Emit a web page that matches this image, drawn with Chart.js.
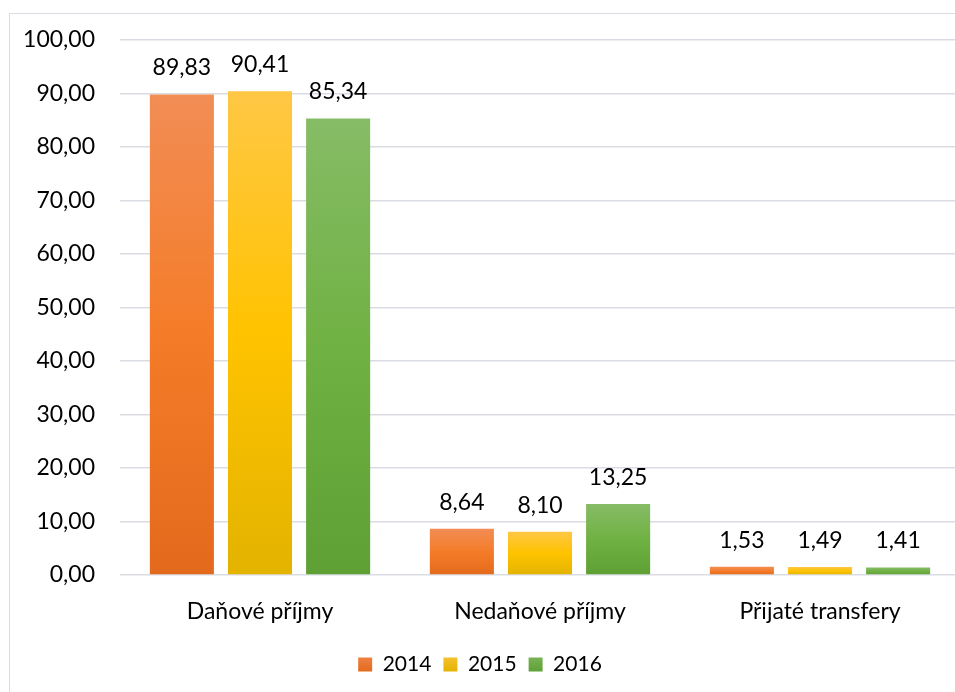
<!DOCTYPE html>
<html>
<head>
<meta charset="utf-8">
<script src="https://cdn.jsdelivr.net/npm/chart.js@4.4.0/dist/chart.umd.min.js"></script>
<style>
  html, body { margin: 0; padding: 0; background: #fff; overflow: hidden; }
  #wrap { position: relative; width: 955px; height: 692px; overflow: hidden; }
  #frame { position: absolute; left: 9px; top: 13px; width: 1000px; height: 1000px; border: 1px solid #D9DDE3; box-sizing: border-box; }
  #box { position: absolute; left: 0; top: 0; width: 960px; height: 692px; }
</style>
</head>
<body>
<div id="wrap">
  <div id="frame"></div>
  <div id="box"><canvas id="prijmyChart" width="960" height="692"></canvas></div>
</div>
<script>
const kategorie = ['Daňové příjmy', 'Nedaňové příjmy', 'Přijaté transfery'];
const roky = ['2014', '2015', '2016'];
const hodnoty2014 = [89.83, 8.64, 1.53];
const hodnoty2015 = [90.41, 8.10, 1.49];
const hodnoty2016 = [85.34, 13.25, 1.41];
const osaYMax = 100;
const osaYKrok = 10;

const barvy = [
    ['#F28D55', '#F47C28', '#E36A1C'],
    ['#FFC745', '#FFC300', '#E3B300'],
    ['#86BC66', '#70B143', '#5FA035']
];

const pismo = 'Lato, "Open Sans", sans-serif';

function formatCislo(v) {
    return v.toFixed(2).replace('.', ',');
}

function gradientSloupce(index) {
    return function(context) {
        const chart = context.chart;
        if (!chart.chartArea || context.type !== 'data') {
            return barvy[index][1];
        }
        const y = chart.scales.y;
        const top = y.getPixelForValue(context.raw);
        const bottom = y.getPixelForValue(0);
        if (!isFinite(top) || bottom - top < 1) {
            return barvy[index][1];
        }
        const g = chart.ctx.createLinearGradient(0, top, 0, bottom);
        g.addColorStop(0, barvy[index][0]);
        g.addColorStop(0.5, barvy[index][1]);
        g.addColorStop(1, barvy[index][2]);
        return g;
    };
}

function legendaGradient(index) {
    const c = document.createElement('canvas').getContext('2d');
    const g = c.createLinearGradient(0, 650, 0, 672);
    g.addColorStop(0, barvy[index][0]);
    g.addColorStop(1, barvy[index][2]);
    return g;
}

// popisky hodnot nad sloupci
const popiskyPlugin = {
    id: 'popisky',
    afterDatasetsDraw(chart) {
        const ctx = chart.ctx;
        ctx.save();
        ctx.font = '23px ' + pismo;
        ctx.fillStyle = '#000';
        ctx.textAlign = 'center';
        ctx.textBaseline = 'alphabetic';
        chart.data.datasets.forEach(function(ds, i) {
            chart.getDatasetMeta(i).data.forEach(function(bar, j) {
                ctx.fillText(formatCislo(ds.data[j]), bar.x, bar.y - 19);
            });
        });
        ctx.restore();
    }
};

const datasety = [hodnoty2014, hodnoty2015, hodnoty2016].map(function(data, i) {
    return {
        label: roky[i],
        data: data,
        backgroundColor: gradientSloupce(i),
        categoryPercentage: 0.837,
        barPercentage: 0.82
    };
});

Chart.defaults.font.family = pismo;
Chart.defaults.font.size = 23;
Chart.defaults.color = '#000';

new Chart(document.getElementById('prijmyChart'), {
    type: 'bar',
    data: { labels: kategorie, datasets: datasety },
    options: {
        responsive: false,
        animation: false,
        layout: { padding: { top: 40, left: 0, right: 0, bottom: 7 } },
        plugins: {
            tooltip: { enabled: false },
            legend: {
                position: 'bottom',
                labels: {
                    boxWidth: 14,
                    boxHeight: 14,
                    padding: 12,
                    font: { size: 21 },
                    generateLabels: function(chart) {
                        return chart.data.datasets.map(function(ds, i) {
                            return {
                                text: ds.label,
                                fillStyle: legendaGradient(i),
                                strokeStyle: 'rgba(0,0,0,0)',
                                lineWidth: 0,
                                datasetIndex: i
                            };
                        });
                    }
                }
            }
        },
        scales: {
            x: {
                grid: { display: false },
                border: { display: false },
                ticks: { padding: 15 },
                afterFit: function(scale) { scale.height = 67; }
            },
            y: {
                min: 0,
                max: osaYMax,
                ticks: {
                    stepSize: osaYKrok,
                    padding: 25,
                    callback: function(v) { return formatCislo(v); }
                },
                grid: { color: '#D9DDE3', lineWidth: 1.5, drawTicks: false },
                border: { display: false },
                afterFit: function(scale) { scale.width = 120; }
            }
        }
    },
    plugins: [popiskyPlugin]
});
</script>
</body>
</html>
